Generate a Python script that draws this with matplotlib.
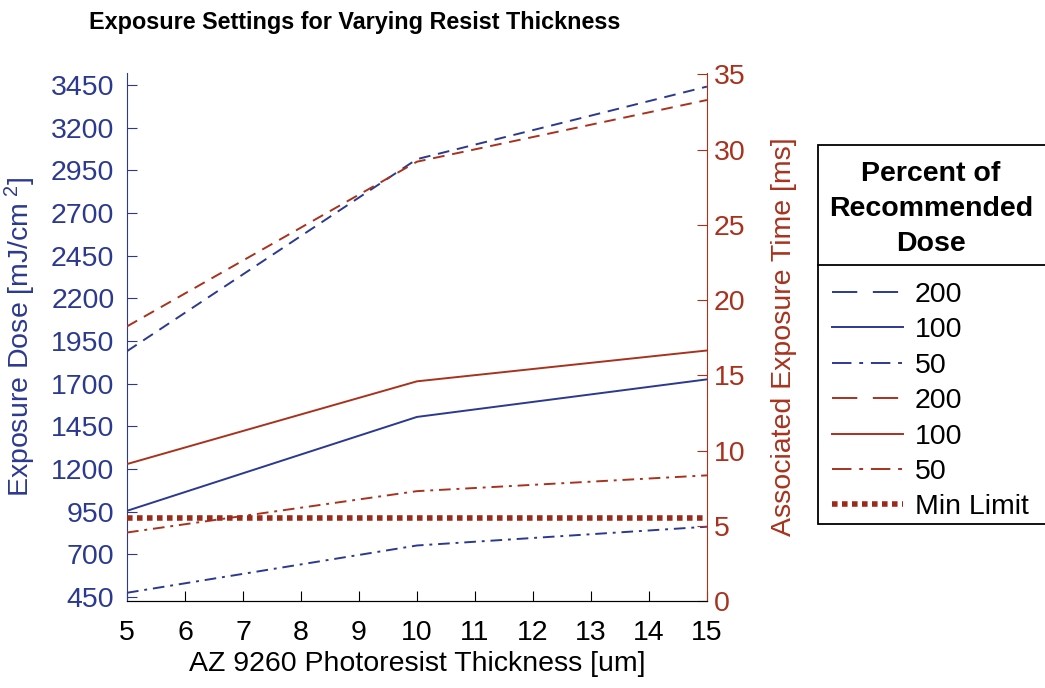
import matplotlib.pyplot as plt
from matplotlib.lines import Line2D
from matplotlib.patches import Rectangle

plt.rcParams['font.family'] = ['Liberation Sans', 'DejaVu Sans']
plt.rcParams['mathtext.fontset'] = 'custom'
plt.rcParams['mathtext.rm'] = 'Liberation Sans'
plt.rcParams['mathtext.it'] = 'Liberation Sans'

# data
thickness = [5, 10, 15]
dose_200 = [1890, 3015, 3440]
dose_100 = [955, 1505, 1725]
dose_50 = [475, 752, 862]
time_200 = [18.25, 29.2, 33.3]
time_100 = [9.1, 14.6, 16.65]
time_50 = [4.55, 7.3, 8.35]
min_limit = 5.5

dose_ticks = list(range(450, 3451, 250))
time_ticks = list(range(0, 36, 5))
x_ticks = list(range(5, 16))
legend_labels = ['200', '100', '50', '200', '100', '50', 'Min Limit']

blue = '#2b3990'
red = '#a8321e'
dark_red = '#9b2a1a'
dash = (0, (6, 4))
dashdot = (0, (6, 3, 1.5, 3))
dotted = (0, (1, 0.8))
fs = 20.5

fig = plt.figure(figsize=(10.45, 6.88), dpi=100)
ax = fig.add_axes([0.1215, 0.1265, 0.555, 0.7675])
ax2 = ax.twinx()

ax.plot(thickness, dose_200, color=blue, ls=dash, lw=1.4)
ax.plot(thickness, dose_100, color=blue, ls='-', lw=1.4)
ax.plot(thickness, dose_50, color=blue, ls=dashdot, lw=1.4)
ax2.plot(thickness, time_200, color=red, ls=dash, lw=1.4)
ax2.plot(thickness, time_100, color=red, ls='-', lw=1.4)
ax2.plot(thickness, time_50, color=red, ls=dashdot, lw=1.4)
ax2.plot([thickness[0], thickness[-1]], [min_limit, min_limit],
         color=dark_red, ls=dotted, lw=4)

ax.set_xlim(5, 15)
ax.set_ylim(427, 3520)
ax2.set_ylim(0, 35.1)
ax.set_xticks(x_ticks)
ax.set_yticks(dose_ticks)
ax2.set_yticks(time_ticks)

ax.tick_params(axis='x', direction='in', length=7, labelsize=fs, pad=14, colors='black')
ax.tick_params(axis='y', direction='in', length=7, labelsize=fs, pad=9,
               colors=blue, right=False)
ax2.tick_params(axis='y', direction='in', length=7, labelsize=fs, pad=5, colors=red)

for a in (ax, ax2):
    a.spines['top'].set_visible(False)
ax.spines['left'].set_color(blue)
ax.spines['right'].set_visible(False)
ax2.spines['left'].set_visible(False)
ax2.spines['right'].set_color(red)
ax.spines['bottom'].set_color('#222222')

ax.set_ylabel('Exposure Dose [mJ/cm$^{\\ 2}$]', color=blue, fontsize=fs, labelpad=9)
ax2.set_ylabel('Associated Exposure Time [ms]', color=red, fontsize=fs, labelpad=18)
ax.set_xlabel('AZ 9260 Photoresist Thickness [um]', fontsize=fs, labelpad=3)

fig.text(0.339, 0.967, 'Exposure Settings for Varying Resist Thickness',
         ha='center', va='center', fontsize=16.8, fontweight='bold')

# legend: box, title and separator drawn by hand (MATLAB style), entries via legend
W, H = fig.bbox.width, fig.bbox.height
fig.add_artist(Rectangle((818 / W, 1 - 524 / H), 240 / W, 379 / H, transform=fig.transFigure,
                         facecolor='white', edgecolor='black', lw=1.3, zorder=3))
fig.add_artist(Line2D([818 / W, 1.0], [1 - 265 / H, 1 - 265 / H], color='black', lw=1.3,
                      transform=fig.transFigure, zorder=4))
fig.text(931 / W, 1 - 209 / H, 'Percent of\nRecommended\nDose', ha='center', va='center',
         fontsize=fs, fontweight='bold', linespacing=1.45, zorder=4)

leg_dash = (0, (13, 8))
leg_dashdot = (0, (10, 4, 2, 4))
handles = [
    Line2D([], [], color=blue, ls=leg_dash, lw=1.4),
    Line2D([], [], color=blue, ls='-', lw=1.4),
    Line2D([], [], color=blue, ls=leg_dashdot, lw=1.4),
    Line2D([], [], color=red, ls=leg_dash, lw=1.4),
    Line2D([], [], color=red, ls='-', lw=1.4),
    Line2D([], [], color=red, ls=leg_dashdot, lw=1.4),
    Line2D([], [], color=dark_red, ls=dotted, lw=4),
]
leg = fig.legend(handles, legend_labels, loc='upper left',
                 bbox_to_anchor=(832 / W, 1 - 282 / H), borderaxespad=0, borderpad=0,
                 fontsize=fs, handlelength=2.5, handletextpad=0.4, labelspacing=0.33,
                 frameon=False)
leg.set_zorder(5)

fig.savefig('out.png', dpi=100)
